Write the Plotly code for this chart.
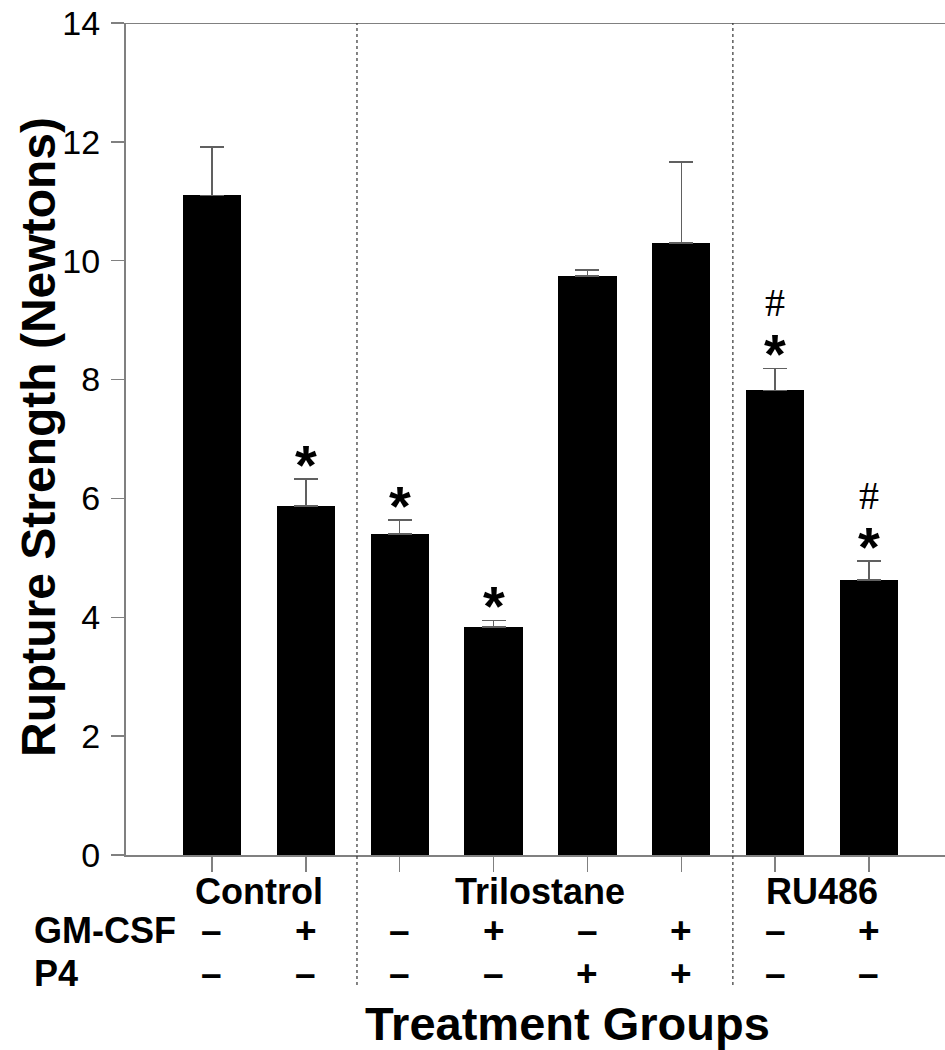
import plotly.graph_objects as go

# ---- data ----
groups = ["Control", "Control", "Trilostane", "Trilostane", "Trilostane", "Trilostane", "RU486", "RU486"]
values = [11.10, 5.87, 5.40, 3.84, 9.74, 10.30, 7.82, 4.63]
errors = [0.81, 0.46, 0.24, 0.11, 0.10, 1.36, 0.37, 0.32]
gmcsf = ["–", "+", "–", "+", "–", "+", "–", "+"]
p4 = ["–", "–", "–", "–", "+", "+", "–", "–"]
star = ["", "*", "*", "*", "", "", "*", "*"]
hashmark = ["", "", "", "", "", "", "#", "#"]
group_labels = ["Control", "Trilostane", "RU486"]
group_centers = [0.5, 3.5, 6.5]
yticks = [0, 2, 4, 6, 8, 10, 12, 14]

W, H = 945, 1050
L, T, B = 126, 23, 195
PH = H - T - B  # plot height in px


def ypaper(px):
    return (H - B - px) / PH


def xpaper(px):
    return (px - L) / (W - L)


FONT = "Liberation Sans, Arial, sans-serif"
GRAY = "#808080"

xs = list(range(len(values)))

fig = go.Figure()
fig.add_trace(go.Bar(
    x=xs, y=values, width=0.62,
    marker=dict(color="black", line=dict(color="black", width=0)),
    error_y=dict(type="data", symmetric=False, array=errors,
                 arrayminus=[0] * len(errors), color="#606060",
                 thickness=1.5, width=12),
    showlegend=False,
))

annotations = []
# significance markers
for i in xs:
    top = values[i] + errors[i]
    if star[i]:
        annotations.append(dict(x=i, y=top, xref="x", yref="y", text=star[i],
                                showarrow=False, yanchor="bottom", yshift=-19,
                                font=dict(family=FONT, size=56, color="black", weight="bold")))
    if hashmark[i]:
        annotations.append(dict(x=i, y=top, xref="x", yref="y", text=hashmark[i],
                                showarrow=False, yanchor="bottom", yshift=41,
                                font=dict(family="Liberation Serif, serif", size=40, color="black")))

# group labels
for lab, cx in zip(group_labels, group_centers):
    annotations.append(dict(x=cx, y=ypaper(891), xref="x", yref="paper", text=lab,
                            showarrow=False, yanchor="middle",
                            font=dict(family=FONT, size=36, color="black", weight="bold")))

# +/- rows
for i in xs:
    annotations.append(dict(x=i, y=ypaper(931), xref="x", yref="paper", text=gmcsf[i],
                            showarrow=False, yanchor="middle",
                            font=dict(family=FONT, size=37, color="black", weight="bold")))
    annotations.append(dict(x=i, y=ypaper(973), xref="x", yref="paper", text=p4[i],
                            showarrow=False, yanchor="middle",
                            font=dict(family=FONT, size=37, color="black", weight="bold")))

annotations.append(dict(x=xpaper(32), y=ypaper(931), xref="paper", yref="paper", text="GM-CSF",
                        showarrow=False, xanchor="left", yanchor="middle",
                        font=dict(family=FONT, size=36, color="black", weight="bold")))
annotations.append(dict(x=xpaper(32), y=ypaper(973), xref="paper", yref="paper", text="P4",
                        showarrow=False, xanchor="left", yanchor="middle",
                        font=dict(family=FONT, size=36, color="black", weight="bold")))

# axis titles
annotations.append(dict(x=xpaper(567), y=ypaper(1023), xref="paper", yref="paper",
                        text="Treatment Groups", showarrow=False, yanchor="middle",
                        font=dict(family=FONT, size=47, color="black", weight="bold")))
annotations.append(dict(x=xpaper(38), y=ypaper(437), xref="paper", yref="paper",
                        text="Rupture Strength (Newtons)", showarrow=False, textangle=-90,
                        xanchor="center", yanchor="middle",
                        font=dict(family=FONT, size=48, color="black", weight="bold")))

shapes = [
    # top border line
    dict(type="line", xref="paper", yref="y", x0=xpaper(113), x1=1, y0=14, y1=14,
         line=dict(color=GRAY, width=2)),
]
for sx in [1.545, 5.55]:
    shapes.append(dict(type="line", xref="x", yref="paper", x0=sx, x1=sx,
                       y0=ypaper(985), y1=1, line=dict(color="#333333", width=1.2, dash="dot")))

fig.update_layout(
    width=W, height=H,
    margin=dict(l=L, r=0, t=T, b=B),
    plot_bgcolor="white", paper_bgcolor="white",
    bargap=0,
    hovermode=False,
    xaxis=dict(range=[-0.916, 7.81], tickvals=xs, ticktext=[""] * len(xs),
               ticks="outside", ticklen=15, tickwidth=1.5, tickcolor=GRAY,
               showline=True, linecolor=GRAY, linewidth=2, showgrid=False,
               zeroline=False, fixedrange=True),
    yaxis=dict(range=[0, 14], tickvals=yticks, ticks="outside", ticklen=13,
               tickwidth=1.5, tickcolor=GRAY, showline=True, linecolor=GRAY,
               linewidth=2, showgrid=False, zeroline=False, fixedrange=True,
               tickfont=dict(family=FONT, size=34, color="black"),
               ticklabelstandoff=4),
    annotations=annotations,
    shapes=shapes,
)

fig.write_html(
    "out.html",
    config={"displayModeBar": False, "staticPlot": True},
    post_script="document.body.style.margin='0';document.body.style.padding='0';"
                "document.body.style.overflow='hidden';",
)
